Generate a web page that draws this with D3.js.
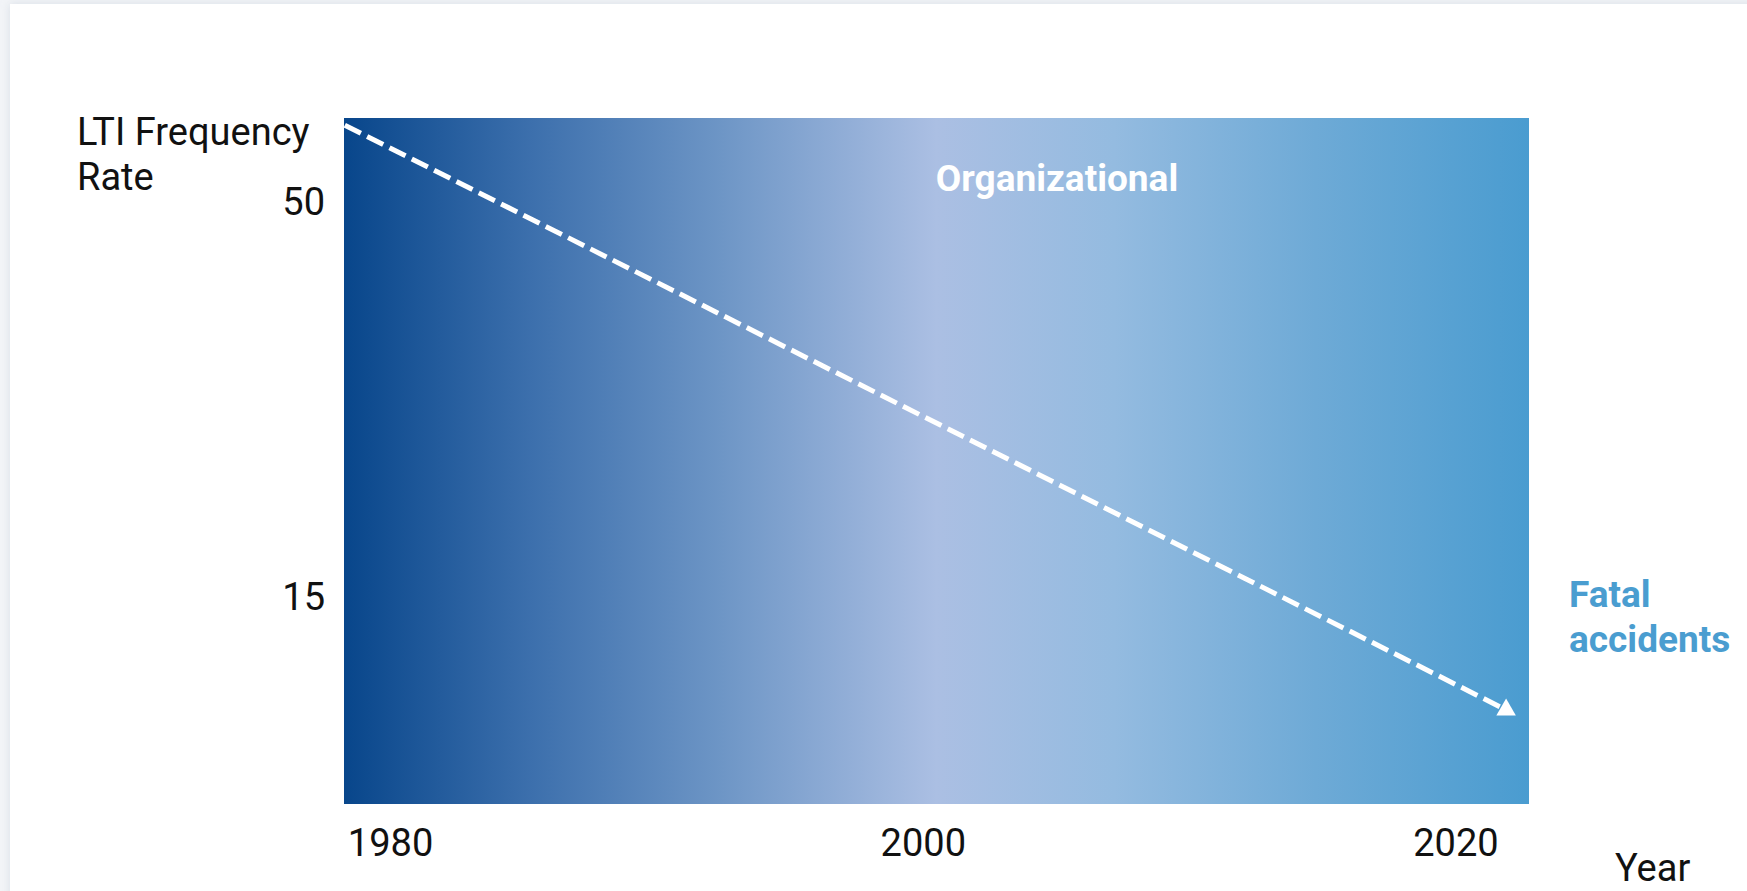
<!DOCTYPE html>
<html>
<head>
<meta charset="utf-8">
<script src="https://cdn.jsdelivr.net/npm/d3@7"></script>
<style>
  html, body { margin: 0; padding: 0; background: #f2f4f7; overflow: hidden; }
  #panel {
    position: absolute; left: 10px; top: 4px; width: 1745px; height: 900px;
    background: #ffffff; box-shadow: 0 0 8px rgba(200, 208, 220, 0.6);
  }
  #chart { position: absolute; left: 0; top: 0; }
  text { font-family: Roboto, "Noto Sans", sans-serif; }
</style>
</head>
<body>
<div id="panel"></div>
<svg id="chart" width="1747" height="891"></svg>
<script>
//Data
var years = [1978.3, 2021.9];
var rates = [56.8, 5.0];
var xTicks = [1980, 2000, 2020];
var yTicks = [15, 50];
var gradientStops = ["#08468b", "#3d70ad", "#6e96c6", "#abbfe3", "#94bbe0", "#6eaad6", "#4a9cd0"];
var gradientOffsets = [0, 0.16, 0.32, 0.5, 0.65, 0.82, 1];

var points = years.map(function(y, i){ return { year: y, rate: rates[i] }; });

//Dimensions
var dimensions = {
    width: 1747,
    height: 891,
    margin: { top: 118, bottom: 87, left: 344, right: 218 }
};
var fontSize = 38;

var svg = d3.select("#chart");

//Scales
var xScale = d3.scaleLinear()
               .domain([1978.27, 2022.76])
               .range([dimensions.margin.left, dimensions.width - dimensions.margin.right]);

var yScale = d3.scaleLinear()
               .domain([-3.34, 57.44])
               .range([dimensions.height - dimensions.margin.bottom, dimensions.margin.top]);

//Gradient
var grad = svg.append("defs")
              .append("linearGradient")
              .attr("id", "bgGrad")
              .attr("x1", "0%").attr("x2", "100%")
              .attr("y1", "0%").attr("y2", "0%");
grad.selectAll("stop")
    .data(gradientStops)
    .enter()
    .append("stop")
    .attr("offset", function(d, i){ return (gradientOffsets[i] * 100) + "%"; })
    .attr("stop-color", function(d){ return d; });

//Background area
svg.append("rect")
   .attr("x", xScale.range()[0])
   .attr("y", yScale.range()[1])
   .attr("width", xScale.range()[1] - xScale.range()[0])
   .attr("height", yScale.range()[0] - yScale.range()[1])
   .style("fill", "url(#bgGrad)");

//Dashed trend line
var line = d3.line()
             .x(function(d){ return xScale(d.year); })
             .y(function(d){ return yScale(d.rate); });

svg.append("path")
   .datum(points)
   .attr("d", line)
   .style("fill", "none")
   .style("stroke", "white")
   .style("stroke-width", 5)
   .style("stroke-dasharray", "18,7");

//Arrow head
var last = points[points.length - 1];
svg.append("path")
   .attr("d", d3.symbol().type(d3.symbolTriangle).size(165)())
   .attr("transform", "translate(" + xScale(last.year) + "," + yScale(last.rate) + ")")
   .style("fill", "white");

//X-axis
var xAxis = svg.append("g")
               .attr("transform", "translate(0," + yScale.range()[0] + ")")
               .call(d3.axisBottom(xScale).tickValues(xTicks).tickSize(0).tickPadding(25).tickFormat(d3.format("d")));
xAxis.select(".domain").remove();
xAxis.selectAll("text")
     .style("font-size", fontSize + "px")
     .style("font-family", "Roboto, sans-serif")
     .style("fill", "#111");

//Y-axis
var yAxis = svg.append("g")
               .attr("transform", "translate(" + xScale.range()[0] + ",0)")
               .call(d3.axisLeft(yScale).tickValues(yTicks).tickSize(0).tickPadding(19));
yAxis.select(".domain").remove();
yAxis.selectAll("text")
     .style("font-size", fontSize + "px")
     .style("font-family", "Roboto, sans-serif")
     .style("fill", "#111");

//Y-axis title
var yTitle = svg.append("text")
                .attr("x", 77)
                .attr("y", 145)
                .style("font-size", fontSize + "px")
                .style("fill", "#111");
yTitle.append("tspan").attr("x", 77).text("LTI Frequency");
yTitle.append("tspan").attr("x", 77).attr("dy", 45).text("Rate");

//X-axis title
svg.append("text")
   .attr("x", 1615)
   .attr("y", 881)
   .style("font-size", fontSize + "px")
   .style("fill", "#111")
   .text("Year");

//Annotations
svg.append("text")
   .attr("x", 1057)
   .attr("y", 191)
   .attr("text-anchor", "middle")
   .style("font-size", "37px")
   .style("font-weight", "bold")
   .style("fill", "white")
   .text("Organizational");

var fatal = svg.append("text")
               .attr("x", 1569)
               .attr("y", 607)
               .style("font-size", "37px")
               .style("font-weight", "bold")
               .style("fill", "#4a9dd0");
fatal.append("tspan").attr("x", 1569).text("Fatal");
fatal.append("tspan").attr("x", 1569).attr("dy", 45).text("accidents");
</script>
</body>
</html>
